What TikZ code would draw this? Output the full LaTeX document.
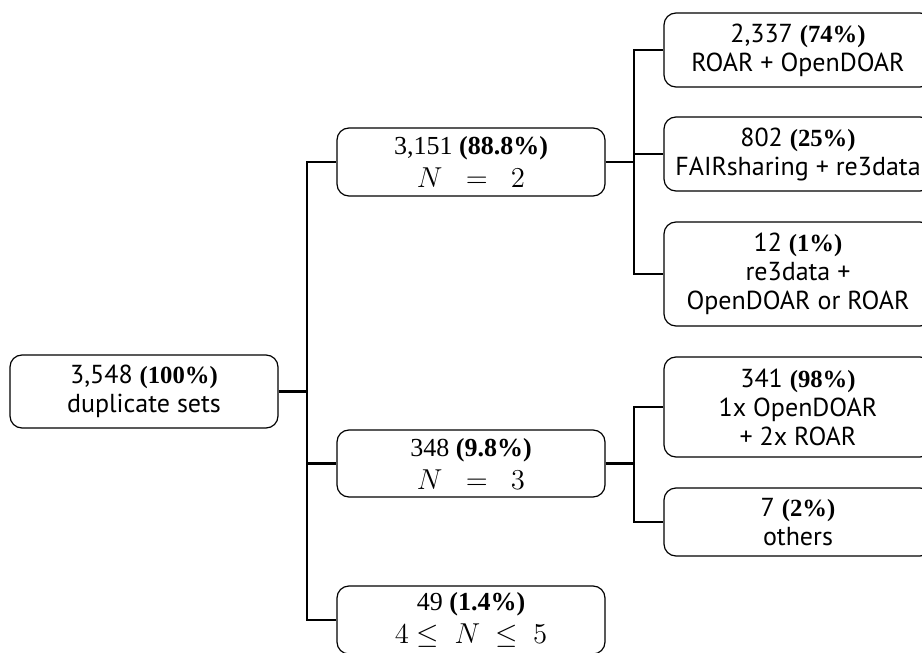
\documentclass[tikz,border=0pt]{standalone}
\usepackage{fontspec}
\setmainfont{PT Sans}
\newfontfamily\serifnum{Liberation Serif}
\newfontfamily\serifpct[Scale=0.95]{Liberation Serif}
\newcommand\bpct[1]{{\serifpct\bfseries #1}}
\newcommand\mathline[1]{{\fontsize{13.5}{15}\selectfont #1}}
\usetikzlibrary{calc}
\tikzset{
  box/.style={draw=black, line width=0.6pt, rounded corners=6pt, align=center,
    inner sep=0pt, minimum width=134pt, font=\fontsize{13}{14.5}\selectfont},
  conn/.style={draw=black, line width=1.1pt, line join=miter}
}
\begin{document}
\begin{tikzpicture}[x=0.5pt, y=-0.5pt]
\useasboundingbox (0,0) rectangle (922,653);
% nodes
\node[box, minimum height=36.5pt] (root) at (144,391.5) {3,548 \bpct{(100\%)}\\duplicate sets};
\node[box, minimum height=34pt] (m1) at (471,162) {{\serifnum 3,151 \bfseries (88.8\%)}\\[2pt]\mathline{$N\;\ =\ \;2$}};
\node[box, minimum height=33.5pt] (m2) at (471,463.5) {{\serifnum 348 \bfseries (9.8\%)}\\[2pt]\mathline{$N\;\ =\ \;3$}};
\node[box, minimum height=34pt] (m3) at (471,620) {{\serifnum 49 \bfseries (1.4\%)}\\[2pt]\mathline{$4\leq\ N\ \leq\ 5$}};
\node[box, minimum height=37pt] (a) at (798,50) {2,337 \bpct{(74\%)}\\ROAR + OpenDOAR};
\node[box, minimum height=37pt] (b) at (798,154) {802 \bpct{(25\%)}\\FAIRsharing + re3data};
\node[box, minimum height=52pt] (c) at (798,274) {12 \bpct{(1\%)}\\re3data +\\OpenDOAR or ROAR};
\node[box, minimum height=50pt] (d) at (798,407) {341 \bpct{(98\%)}\\1x OpenDOAR\\+ 2x ROAR};
\node[box, minimum height=34pt] (e) at (798,522) {7 \bpct{(2\%)}\\others};
% junctions
\coordinate (j0) at (307,391.5);
\coordinate (j1) at (634,162);
\coordinate (j2) at (634,463.5);
% connectors
\draw[conn] (root.east) -- (j0);
\draw[conn] (j0) |- (m1.west);
\draw[conn] (j0) |- (m2.west);
\draw[conn] (j0) |- (m3.west);
\draw[conn] (m1.east) -- (j1);
\draw[conn] (j1) |- (a.west);
\draw[conn] (j1) |- (b.west);
\draw[conn] (j1) |- (c.west);
\draw[conn] (m2.east) -- (j2);
\draw[conn] (j2) |- (d.west);
\draw[conn] (j2) |- (e.west);
\end{tikzpicture}
\end{document}
